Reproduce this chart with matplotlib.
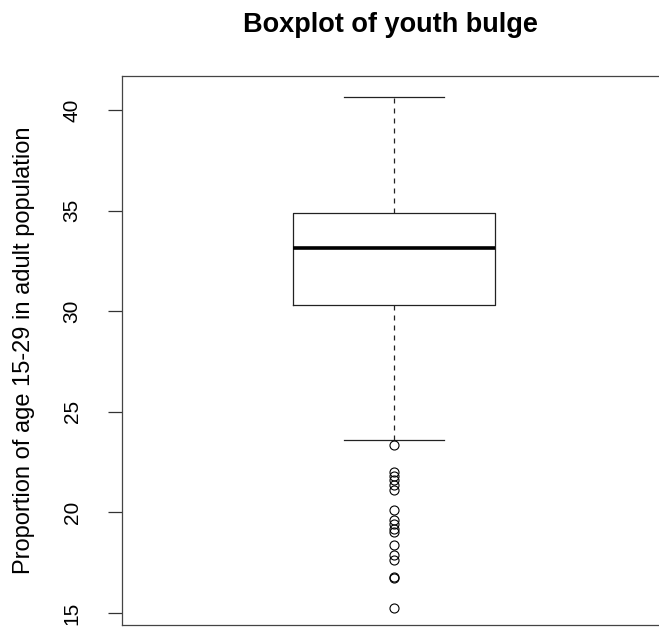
import matplotlib
matplotlib.use("Agg")
import matplotlib.pyplot as plt

# ==================== Data ====================
q1 = 30.3
median = 33.15
q3 = 34.9
whisker_low = 23.6
whisker_high = 40.65
outliers = [23.36, 22.0, 21.83, 21.6, 21.35, 21.1, 20.1, 19.6, 19.4,
            19.17, 19.0, 18.4, 17.9, 17.65, 16.8, 16.75, 15.25]
y_ticks = [15, 20, 25, 30, 35, 40]

plt.rcParams["font.family"] = ["Liberation Sans", "DejaVu Sans"]

fig = plt.figure(figsize=(6.59, 6.27), dpi=100)
ax = fig.add_axes([122 / 659, 2 / 627, (666 - 122) / 659, (625 - 76) / 627])

stats = [{
    "med": median, "q1": q1, "q3": q3,
    "whislo": whisker_low, "whishi": whisker_high,
    "fliers": outliers,
}]

ax.bxp(stats, positions=[1.0], widths=0.4, showcaps=True,
       patch_artist=False, manage_ticks=False,
       boxprops=dict(color="#222222", linewidth=0.9),
       medianprops=dict(color="black", linewidth=2.6, solid_capstyle="butt"),
       whiskerprops=dict(color="#222222", linewidth=0.9, linestyle=(0, (4, 4))),
       capprops=dict(color="#222222", linewidth=0.9),
       flierprops=dict(marker="o", markersize=6.5, markerfacecolor="none",
                       markeredgecolor="black", markeredgewidth=0.8,
                       linestyle="none"))

ax.set_xlim(0.46, 1.54)
ax.set_ylim(14.4, 41.7)
ax.set_xticks([])
ax.set_yticks(y_ticks)
ax.set_yticklabels([str(t) for t in y_ticks], rotation=90, va="center")
ax.tick_params(axis="y", length=10, width=0.9, color="#333333",
               labelsize=15, pad=19)
ax.set_ylabel("Proportion of age 15-29 in adult population", fontsize=17,
              labelpad=20)

for side in ["left", "bottom", "top", "right"]:
    ax.spines[side].set_color("#444444")
    ax.spines[side].set_linewidth(0.9)

fig.text(0.592, 0.96, "Boxplot of youth bulge", ha="center", va="center",
         fontsize=19.5, fontweight="bold")

fig.savefig("out.png", dpi=100)
